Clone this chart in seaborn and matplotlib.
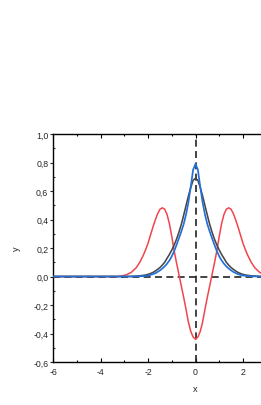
import pandas as pd
import seaborn as sns
from matplotlib import pyplot as plt
from matplotlib.ticker import MultipleLocator, FuncFormatter

# values (curves are symmetric about x = 0)
x_vals = [-6.0, -5.0, -4.0, -3.6, -3.3, -3.1, -2.9, -2.7, -2.5, -2.35, -2.2, -2.1, -2.0,
          -1.9, -1.8, -1.7, -1.6, -1.5, -1.4, -1.3, -1.2, -1.1, -1.0, -0.9, -0.8, -0.7,
          -0.6, -0.5, -0.4, -0.3, -0.2, -0.1, 0.0,
          0.1, 0.2, 0.3, 0.4, 0.5, 0.6, 0.7, 0.8, 0.9, 1.0, 1.1, 1.2, 1.3, 1.4, 1.5,
          1.6, 1.7, 1.8, 1.9, 2.0, 2.1, 2.2, 2.35, 2.5, 2.7, 2.9, 3.1, 3.3, 3.6, 4.0, 5.0, 6.0]

red_vals = [0.0, 0.0, 0.0, 0.0, 0.0, 0.004, 0.013, 0.03, 0.062, 0.10, 0.15, 0.19, 0.235,
            0.29, 0.345, 0.395, 0.44, 0.472, 0.482, 0.472, 0.435, 0.37, 0.28, 0.18, 0.095, 0.015,
            -0.065, -0.145, -0.23, -0.32, -0.385, -0.425, -0.44,
            -0.425, -0.385, -0.32, -0.23, -0.145, -0.065, 0.015, 0.095, 0.18, 0.28, 0.37, 0.435, 0.472, 0.482, 0.472,
            0.44, 0.395, 0.345, 0.29, 0.235, 0.19, 0.15, 0.10, 0.062, 0.03, 0.013, 0.004, 0.0, 0.0, 0.0, 0.0, 0.0]

black_vals = [0.0, 0.0, 0.0, 0.0, 0.0, 0.0, 0.0, 0.001, 0.003, 0.005, 0.008, 0.011, 0.015,
              0.021, 0.028, 0.038, 0.05, 0.063, 0.08, 0.10, 0.128, 0.155, 0.186, 0.221, 0.262, 0.31,
              0.365, 0.43, 0.497, 0.565, 0.625, 0.675, 0.69,
              0.675, 0.625, 0.565, 0.497, 0.43, 0.365, 0.31, 0.262, 0.221, 0.186, 0.155, 0.128, 0.10, 0.08, 0.063,
              0.05, 0.038, 0.028, 0.021, 0.015, 0.011, 0.008, 0.005, 0.003, 0.001, 0.0, 0.0, 0.0, 0.0, 0.0, 0.0, 0.0]

blue_vals = [0.0, 0.0, 0.0, 0.0, 0.0, 0.0, 0.0, 0.0, 0.001, 0.002, 0.003, 0.005, 0.007,
             0.011, 0.016, 0.023, 0.032, 0.043, 0.056, 0.071, 0.09, 0.113, 0.142, 0.178, 0.222, 0.268,
             0.315, 0.367, 0.435, 0.52, 0.63, 0.75, 0.79,
             0.75, 0.63, 0.52, 0.435, 0.367, 0.315, 0.268, 0.222, 0.178, 0.142, 0.113, 0.09, 0.071, 0.056, 0.043,
             0.032, 0.023, 0.016, 0.011, 0.007, 0.005, 0.003, 0.002, 0.001, 0.0, 0.0, 0.0, 0.0, 0.0, 0.0, 0.0, 0.0]

df = pd.DataFrame({"x": x_vals, "red": red_vals, "black": black_vals, "blue": blue_vals})

sns.set_style("ticks")
plt.rcParams['font.family'] = ['Liberation Sans', 'DejaVu Sans']
plt.rcParams['axes.unicode_minus'] = False

# axes runs off the right edge of the picture, as in the reference
x_lo = -6.0
x_hi = x_lo + (261 - 53.3) / 23.7

fig = plt.figure(figsize=(2.61, 4.06), dpi=100)
ax = fig.add_axes([53.3 / 261, 43 / 406, (261 - 53.3) / 261, 228 / 406])

ax.axhline(0, color='#222222', lw=1.2, dashes=(4.2, 2.6), zorder=1)
ax.axvline(0, color='#222222', lw=1.2, dashes=(4.2, 2.6), zorder=1)

sns.lineplot(data=df, x="x", y="red", ax=ax, color='#f2444c', lw=1.1, zorder=2)
sns.lineplot(data=df, x="x", y="black", ax=ax, color='#474747', lw=1.15, zorder=3)
sns.lineplot(data=df, x="x", y="blue", ax=ax, color='#2470d8', lw=1.25, zorder=4)

ax.set_xlim(x_lo, x_hi)
ax.set_ylim(-0.6, 1.0)
ax.xaxis.set_major_locator(MultipleLocator(2))
ax.xaxis.set_minor_locator(MultipleLocator(1))
ax.yaxis.set_major_locator(MultipleLocator(0.2))
ax.yaxis.set_minor_locator(MultipleLocator(0.1))
ax.yaxis.set_major_formatter(FuncFormatter(lambda v, p: f"{v:.1f}".replace('.', ',')))
ax.xaxis.set_major_formatter(FuncFormatter(lambda v, p: f"{v:.0f}"))

for s in ax.spines.values():
    s.set_linewidth(1.0)
    s.set_color('black')
ax.spines['right'].set_visible(False)

ax.tick_params(axis='x', which='both', direction='in', top=True, bottom=True,
               labelsize=6.3, pad=3.3, width=0.8, color='black')
ax.tick_params(axis='x', which='major', length=3)
ax.tick_params(axis='x', which='minor', length=1.6)
ax.tick_params(axis='y', which='major', direction='out', length=2.4, width=0.8,
               labelsize=6.3, pad=1.2)
ax.tick_params(axis='y', which='minor', direction='in', length=1.6, width=0.8)

ax.set_xlabel("x", fontsize=6.6, labelpad=5)
ax.xaxis.set_label_coords((0 - x_lo) / (x_hi - x_lo), -0.095)
ax.set_ylabel("y", fontsize=6.6, labelpad=9)

plt.savefig('out.png', dpi=100)
